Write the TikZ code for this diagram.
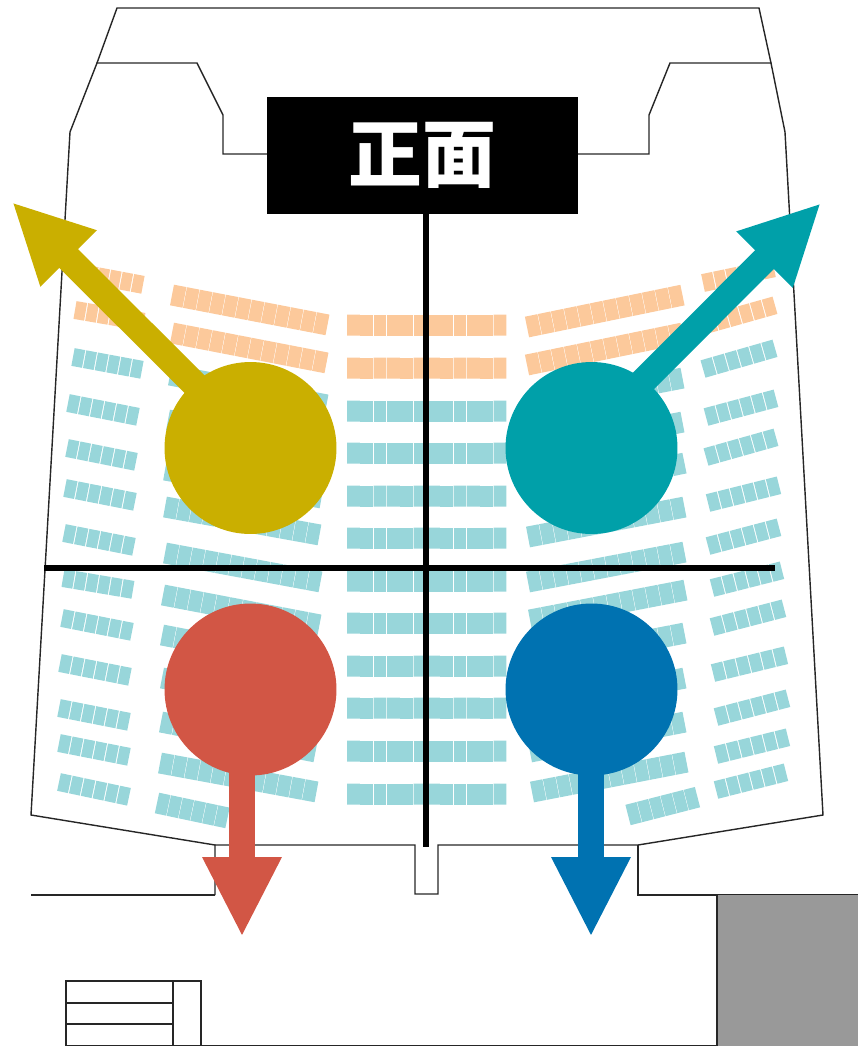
\documentclass[tikz,border=0pt]{standalone}
\usepackage{fontspec}
\usetikzlibrary{calc}
\usetikzlibrary{arrows.meta}
\newfontfamily\cjk{Noto Sans CJK JP}

\definecolor{seatorange}{HTML}{FCC99B}
\definecolor{seatteal}{HTML}{98D6DA}
\definecolor{spotyellow}{HTML}{CAAF00}
\definecolor{spotteal}{HTML}{00A0A9}
\definecolor{spotred}{HTML}{D25645}
\definecolor{spotblue}{HTML}{0072B1}
\definecolor{annex}{HTML}{999999}

\tikzset{
    wall/.style={line width=0.8pt, color=black!85},
    seat/.style={line width=0.36cm},
    wideseat/.style={line width=0.42cm},
    spot/.style={circle, minimum size=3.44cm, inner sep=0pt},
    exit/.style={line width=0.53cm, -{Triangle[length=1.6cm,width=1.47cm]}},
    cross/.style={line width=0.12cm, color=black}
}

% one row of seats: x1/y1/x2/y2 of the row's axis
\newcommand{\seatrow}[8]{
    \foreach \i in {1,...,#5} {
        \draw[#8, color=#6, shorten >=#7]
            ($(#1,#2)!{(\i-1)/#5}!(#3,#4)$) -- ($(#1,#2)!{\i/#5}!(#3,#4)$);
    }
}

\begin{document}
\begin{tikzpicture}[x=0.02cm, y=-0.02cm]
    \useasboundingbox (0,0) rectangle (858,1046);

    % Outer Seats
    \foreach \xa/\ya/\xb/\yb in {75/272/144/285, 75/310/145/322, 703/283/775/268, 705/325/776/305}
        \seatrow{\xa}{\ya}{\xb}{\yb}{6}{seatorange}{0.6pt}{seat};
    \foreach \xa/\ya/\xb/\yb in {
        73/357/143/370, 68/403/139/417, 67/448/137/462, 65/488/136/502, 64/533/135/547, 63/578/134/590,
        62/618/133/632, 60/663/131/677, 59/708/130/722, 59/743/130/757, 59/782/130/797,
        703/369/776/348, 706/417/777/398, 706/457/777/437, 708/503/780/485, 708/546/780/527, 712/588/783/570,
        712/627/785/608, 713/673/787/655, 716/717/789/698, 716/755/789/737, 716/790/787/772}
        \seatrow{\xa}{\ya}{\xb}{\yb}{6}{seatteal}{0.6pt}{seat};

    % Inner Seats
    \foreach \xa/\ya/\xb/\yb in {172/295/328/325, 172/333/327/363, 527/327/683/295, 527/365/683/333}
        \seatrow{\xa}{\ya}{\xb}{\yb}{12}{seatorange}{0.3pt}{wideseat};
    \foreach \xa/\ya/\xb/\yb in {
        170/375/327/405, 168/420/326/450, 165/470/322/498, 165/507/320/535, 165/553/321/582, 163/595/320/625,
        162/635/318/665, 162/678/317/708, 161/722/316/752, 160/763/317/792,
        527/408/683/378, 527/452/683/422, 528/495/685/463, 528/537/685/507, 528/582/685/552, 530/620/686/590,
        530/663/685/633, 530/708/685/678, 530/752/685/722, 532/792/687/762}
        \seatrow{\xa}{\ya}{\xb}{\yb}{12}{seatteal}{0.3pt}{wideseat};
    \seatrow{157}{803}{228}{818}{6}{seatteal}{0.3pt}{wideseat}
    \seatrow{628}{815}{698}{797}{6}{seatteal}{0.3pt}{wideseat}

    % Centre Seats
    \foreach \y in {325,368}
        \seatrow{347}{\y}{507}{\y}{12}{seatorange}{0.3pt}{wideseat};
    \foreach \y in {411,453,496,538,581,623,666,708,751,794}
        \seatrow{347}{\y}{507}{\y}{12}{seatteal}{0.3pt}{wideseat};

    % Hall
    \draw[wall] (215,895) -- (31,895);
    \draw[wall] (97,63) -- (117,8) -- (759,8) -- (771,63);
    \draw[wall] (267,154) -- (223,154) -- (223,115) -- (197,63) -- (97,63) -- (70,132) -- (31,815)
        -- (215,845) -- (215,895);
    \draw[wall] (215,845) -- (415,845) -- (415,894) -- (438,894) -- (438,845) -- (638,845) -- (823,815)
        -- (785,132) -- (771,63) -- (670,63) -- (649,115) -- (649,154) -- (578,154);
    \draw[wall] (638,845) -- (638,895) -- (858,895);

    % Annex
    \fill[annex] (717,895) rectangle (858,1046);
    \draw[wall] (717,895) -- (717,1046) -- (66,1046);

    % Stairs
    \draw[wall] (66,981) rectangle (201,1046);
    \draw[wall] (173,981) -- (173,1046);
    \draw[wall] (66,1003) -- (173,1003);
    \draw[wall] (66,1024) -- (173,1024);

    % Front
    \node[fill=black, text=white, minimum width=6.22cm, minimum height=2.34cm, inner sep=0pt,
        font=\cjk\bfseries\fontsize{42}{42}\selectfont] (front) at (422.5,155.5) {\raisebox{-2.2pt}{正面}};

    % Cross
    \coordinate (crossbot) at (426,847);
    \coordinate (crossl) at (44,568);
    \coordinate (crossr) at (775,568);
    \draw[cross] (front.south -| crossbot) -- (crossbot);
    \draw[cross] (crossl) -- (crossr);

    % Spots
    \node[spot, fill=spotyellow] (spotnw) at (250.5,448) {};
    \node[spot, fill=spotteal] (spotne) at (591.5,448) {};
    \node[spot, fill=spotred] (spotsw) at (250.5,689.5) {};
    \node[spot, fill=spotblue] (spotse) at (591.5,689.5) {};

    % Exits
    \coordinate (tipnw) at (12,202);
    \coordinate (tipne) at (821,203);
    \coordinate (tipsw) at (242,937);
    \coordinate (tipse) at (591,937);
    \draw[exit, color=spotyellow] ($(spotnw)+(0,-8)$) -- (tipnw);
    \draw[exit, color=spotteal] ($(spotne)+(13,-28)$) -- (tipne);
    \draw[exit, color=spotred, shorten <=-0.1cm] (spotsw.south -| tipsw) -- (tipsw);
    \draw[exit, color=spotblue, shorten <=-0.1cm] (spotse.south -| tipse) -- (tipse);

\end{tikzpicture}
\end{document}
